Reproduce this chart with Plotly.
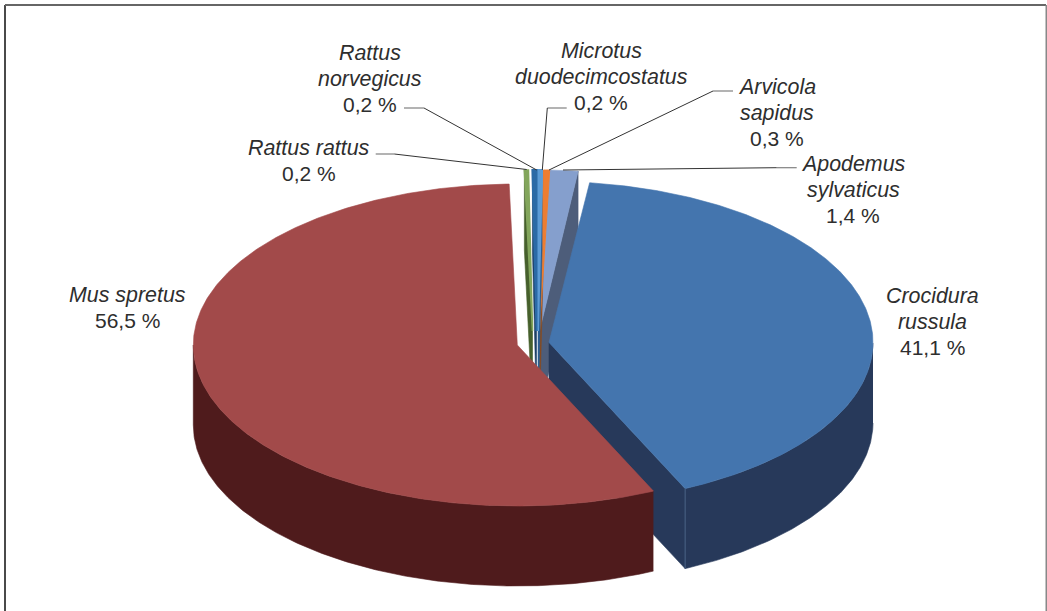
import numpy as np
import plotly.graph_objects as go

# Trap-catch shares per species, in drawing order (clockwise)
species = ["Crocidura russula", "Mus spretus", "Rattus rattus", "Rattus norvegicus",
           "Microtus duodecimcostatus", "Arvicola sapidus", "Apodemus sylvaticus"]
shares = [41.1, 56.5, 0.2, 0.2, 0.2, 0.3, 1.4]
share_text = ["41,1 %", "56,5 %", "0,2 %", "0,2 %", "0,2 %", "0,3 %", "1,4 %"]

top_colors = ["#4475ae", "#a24a4a", "#83a65c", "#2b6aa6", "#5b9bd5", "#ed7d31", "#859fcd"]
wall_colors = ["#27395a", "#4f1b1c", "#46602c", "#1d3f66", "#2a5f93", "#8a4a1c", "#4d5d7a"]
edge_widths = [0.6, 0.6, 1.6, 2.0, 2.0, 1.0, 0.6]

# Pie projection
RX, RY, DEPTH = 324.0, 161.0, 80.0
FIRST_ANGLE = 7.2

# Apex of each pulled-out slice on the page
apex = [(549.0, 342.5), (517.3, 345.0), (532.5, 331.0), (536.5, 331.0),
        (538.0, 331.0), (539.5, 331.0), (539.5, 331.0)]

# Label centre and line layout
label_pos = [(932, 321.5), (127, 308), (309, 161), (370, 79), (601, 77), (777, 113), (853, 190)]
label_name_lines = [["Crocidura", "russula"], ["Mus spretus"], ["Rattus rattus"],
                    ["Rattus", "norvegicus"], ["Microtus", "duodecimcostatus"],
                    ["Arvicola", "sapidus"], ["Apodemus", "sylvaticus"]]
LINE_PITCH = 25.6
NAME_SIZE = 21.4
SHARE_SIZE = 21

# Leader lines: species index, then bend points
leaders = {
    2: [(375.7, 154), (394.3, 154), (526.7, 169.5)],
    3: [(404, 108), (424, 108), (536.7, 170)],
    4: [(566.7, 108), (547.3, 108), (542.3, 170)],
    5: [(733, 91), (713, 91), (549, 170)],
    6: [(796.7, 167.7), (776.7, 167.7), (563, 170)],
}

# Slice spans follow directly from the shares
spans = np.array(shares) * 3.6
ends = FIRST_ANGLE + np.cumsum(spans)
starts = ends - spans


def rim(center, angle):
    t = np.radians(angle)
    return center[0] + RX * np.sin(t), center[1] - RY * np.cos(t)


def arc(center, a0, a1):
    n = max(4, int(abs(a1 - a0) * 2))
    return rim(center, np.linspace(a0, a1, n))


def polygon(xs, ys, color, width=0.6):
    return go.Scatter(x=list(xs), y=list(ys), mode="lines", fill="toself", fillcolor=color,
                      line=dict(color=color, width=width), hoverinfo="skip", showlegend=False)


def top_face(i):
    ax, ay = arc(apex[i], starts[i], ends[i])
    return polygon(np.r_[apex[i][0], ax, apex[i][0]], np.r_[apex[i][1], ay, apex[i][1]],
                   top_colors[i], edge_widths[i])


def cut_wall(i, angle):
    rx_, ry_ = rim(apex[i], angle)
    cx, cy = apex[i]
    return polygon([cx, rx_, rx_, cx, cx], [cy, ry_, ry_ + DEPTH, cy + DEPTH, cy], wall_colors[i])


def outer_wall(i, a0, a1):
    ax, ay = arc(apex[i], a0, a1)
    return polygon(np.r_[ax, ax[::-1]], np.r_[ay, ay[::-1] + DEPTH], wall_colors[i])


fig = go.Figure()

# Narrow slices first, they sit behind the two large ones
fig.add_trace(cut_wall(6, ends[6]))
fig.add_trace(top_face(6))
fig.add_trace(cut_wall(5, starts[5]))
fig.add_trace(top_face(5))
fig.add_trace(cut_wall(4, ends[4]))
fig.add_trace(top_face(4))
fig.add_trace(cut_wall(3, starts[3]))
fig.add_trace(top_face(3))
fig.add_trace(cut_wall(2, starts[2]))
fig.add_trace(top_face(2))

# Crocidura russula: cut face, outer wall, top
fig.add_trace(cut_wall(0, ends[0]))
fig.add_trace(outer_wall(0, starts[0] + 83, ends[0]))
fig.add_trace(top_face(0))
corner_x, corner_y = rim(apex[0], ends[0])
fig.add_trace(go.Scatter(x=[corner_x, corner_x], y=[corner_y, corner_y + DEPTH], mode="lines",
                         line=dict(color="#4a6285", width=1), hoverinfo="skip", showlegend=False))

# Mus spretus: outer wall, top
fig.add_trace(outer_wall(1, starts[1], 270))
fig.add_trace(top_face(1))

# Leader lines
for idx, pts in leaders.items():
    xs, ys = zip(*pts)
    fig.add_trace(go.Scatter(x=xs[:2], y=ys[:2], mode="lines", line=dict(color="#808080", width=1.2),
                             hoverinfo="skip", showlegend=False))
    fig.add_trace(go.Scatter(x=xs[1:], y=ys[1:], mode="lines", line=dict(color="#333333", width=1),
                             hoverinfo="skip", showlegend=False))

# Each label line is placed on its own so the pitch stays fixed
annotations = []
for (x, y), lines, pct in zip(label_pos, label_name_lines, share_text):
    rows = [(f"<i>{ln}</i>", NAME_SIZE) for ln in lines] + [(pct, SHARE_SIZE)]
    first = y - LINE_PITCH * (len(rows) - 1) / 2
    for k, (body, size) in enumerate(rows):
        annotations.append(dict(x=x, y=first + k * LINE_PITCH, xref="x", yref="y", text=body,
                                showarrow=False, xanchor="center", yanchor="middle", align="center",
                                font=dict(family="Liberation Sans", size=size, color="#2e2e2e")))

# Outer frame, open at the bottom of the page
frame_lines = [
    dict(x0=5, x1=5, y0=5, y1=611, color="#4a4a4a"),
    dict(x0=5, x1=1046, y0=5, y1=5, color="#666666"),
    dict(x0=1046.5, x1=1046.5, y0=5, y1=611, color="#888888"),
]
shapes = [dict(type="line", xref="x", yref="y", x0=f["x0"], x1=f["x1"], y0=f["y0"], y1=f["y1"],
               line=dict(color=f["color"], width=2)) for f in frame_lines]

fig.update_layout(
    width=1047, height=611, autosize=False,
    margin=dict(l=0, r=0, t=0, b=0),
    paper_bgcolor="white", plot_bgcolor="white",
    showlegend=False,
    xaxis=dict(range=[0, 1047], visible=False, fixedrange=True),
    yaxis=dict(range=[611, 0], visible=False, fixedrange=True),
    annotations=annotations, shapes=shapes,
)

fig.write_html("out.html", config={"displayModeBar": False})
